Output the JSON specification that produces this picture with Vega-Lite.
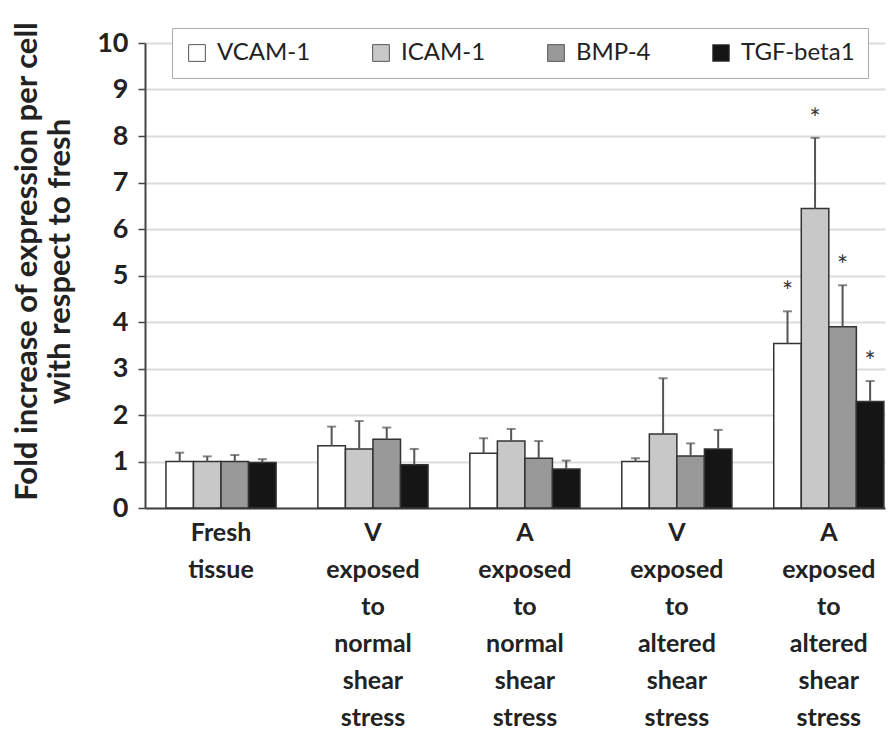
{
  "$schema": "https://vega.github.io/schema/vega-lite/v6.json",
  "autosize": "none",
  "width": 740,
  "height": 465,
  "padding": {"left": 145, "top": 43, "right": 10, "bottom": 225},
  "background": "white",
  "config": {
    "font": "Lato",
    "view": {"stroke": null},
    "axis": {"labelFont": "Lato", "titleFont": "Lato"}
  },
  "data": {
    "values": [
      {"group": "Fresh tissue", "series": "VCAM-1", "value": 1.0, "err": 1.19, "sig": ""},
      {"group": "Fresh tissue", "series": "ICAM-1", "value": 1.0, "err": 1.11, "sig": ""},
      {"group": "Fresh tissue", "series": "BMP-4", "value": 1.0, "err": 1.14, "sig": ""},
      {"group": "Fresh tissue", "series": "TGF-beta1", "value": 0.98, "err": 1.05, "sig": ""},
      {"group": "V exposed to normal shear stress", "series": "VCAM-1", "value": 1.34, "err": 1.75, "sig": ""},
      {"group": "V exposed to normal shear stress", "series": "ICAM-1", "value": 1.27, "err": 1.87, "sig": ""},
      {"group": "V exposed to normal shear stress", "series": "BMP-4", "value": 1.48, "err": 1.73, "sig": ""},
      {"group": "V exposed to normal shear stress", "series": "TGF-beta1", "value": 0.93, "err": 1.27, "sig": ""},
      {"group": "A exposed to normal shear stress", "series": "VCAM-1", "value": 1.18, "err": 1.5, "sig": ""},
      {"group": "A exposed to normal shear stress", "series": "ICAM-1", "value": 1.44, "err": 1.7, "sig": ""},
      {"group": "A exposed to normal shear stress", "series": "BMP-4", "value": 1.07, "err": 1.44, "sig": ""},
      {"group": "A exposed to normal shear stress", "series": "TGF-beta1", "value": 0.84, "err": 1.02, "sig": ""},
      {"group": "V exposed to altered shear stress", "series": "VCAM-1", "value": 1.0, "err": 1.07, "sig": ""},
      {"group": "V exposed to altered shear stress", "series": "ICAM-1", "value": 1.59, "err": 2.79, "sig": ""},
      {"group": "V exposed to altered shear stress", "series": "BMP-4", "value": 1.12, "err": 1.39, "sig": ""},
      {"group": "V exposed to altered shear stress", "series": "TGF-beta1", "value": 1.27, "err": 1.68, "sig": ""},
      {"group": "A exposed to altered shear stress", "series": "VCAM-1", "value": 3.54, "err": 4.23, "sig": "*"},
      {"group": "A exposed to altered shear stress", "series": "ICAM-1", "value": 6.44, "err": 7.96, "sig": "*"},
      {"group": "A exposed to altered shear stress", "series": "BMP-4", "value": 3.9, "err": 4.79, "sig": "*"},
      {"group": "A exposed to altered shear stress", "series": "TGF-beta1", "value": 2.29, "err": 2.73, "sig": "*"}
    ]
  },
  "encoding": {
    "x": {
      "field": "group",
      "type": "nominal",
      "sort": null,
      "scale": {"paddingInner": 0.275, "paddingOuter": 0.0725, "align": 0.95},
      "axis": {
        "title": null,
        "labelAngle": 0,
        "labelExpr": "split(datum.label, ' ')",
        "labelFontSize": 25,
        "labelFontWeight": "bold",
        "labelColor": "#222222",
        "labelLineHeight": 37,
        "labelPadding": 12,
        "labelBaseline": "top",
        "ticks": false,
        "domainColor": "#444444",
        "domainWidth": 2,
        "grid": false
      }
    },
    "xOffset": {
      "field": "series",
      "type": "nominal",
      "sort": ["VCAM-1", "ICAM-1", "BMP-4", "TGF-beta1"],
      "scale": {"paddingInner": 0, "paddingOuter": 0}
    }
  },
  "layer": [
    {
      "mark": {"type": "bar", "stroke": "#333333", "strokeWidth": 1.5},
      "encoding": {
        "y": {
          "field": "value",
          "type": "quantitative",
          "scale": {"domain": [0, 10], "nice": false},
          "axis": {
            "values": [0, 1, 2, 3, 4, 5, 6, 7, 8, 9, 10],
            "title": ["Fold increase of expression per cell", "with respect to fresh"],
            "titleFontSize": 31,
            "titleFontWeight": "bold",
            "titleColor": "#222222",
            "titleLineHeight": 33,
            "titleAngle": -90,
            "titleX": -133,
            "titleY": 218,
            "titleAlign": "center",
            "titleBaseline": "top",
            "labelFontSize": 27,
            "labelFontWeight": "bold",
            "labelColor": "#222222",
            "labelPadding": 10,
            "tickSize": 7,
            "tickColor": "#444444",
            "tickWidth": 1.5,
            "domainColor": "#444444",
            "domainWidth": 2,
            "gridColor": "#dcdcdc",
            "gridWidth": 2
          }
        },
        "fill": {
          "field": "series",
          "type": "nominal",
          "sort": ["VCAM-1", "ICAM-1", "BMP-4", "TGF-beta1"],
          "scale": {"domain": ["VCAM-1", "ICAM-1", "BMP-4", "TGF-beta1"], "range": ["#ffffff", "#c8c8c8", "#999999", "#151515"]},
          "legend": {
            "title": null,
            "orient": "none",
            "legendX": 27,
            "legendY": -15,
            "direction": "horizontal",
            "columns": 4,
            "gridAlign": "each",
            "columnPadding": 58,
            "padding": 13,
            "strokeColor": "#aaaaaa",
            "fillColor": "#ffffff",
            "symbolType": "square",
            "symbolSize": 280,
            "symbolStrokeColor": "#555555",
            "symbolStrokeWidth": 1,
            "labelFontSize": 24,
            "labelFont": "Lato",
            "labelColor": "#222222",
            "labelOffset": 8,
            "labelLimit": 300
          }
        }
      }
    },
    {
      "mark": {"type": "rule", "color": "#555555", "strokeWidth": 2},
      "encoding": {
        "y": {"field": "value", "type": "quantitative"},
        "y2": {"field": "err"}
      }
    },
    {
      "mark": {"type": "tick", "color": "#555555", "thickness": 2, "size": 9, "orient": "horizontal"},
      "encoding": {
        "y": {"field": "err", "type": "quantitative"}
      }
    },
    {
      "transform": [{"filter": "datum.sig != ''"}],
      "mark": {"type": "text", "dy": -18, "baseline": "middle", "fontSize": 26, "color": "#333333", "font": "Lato"},
      "encoding": {
        "y": {"field": "err", "type": "quantitative"},
        "text": {"field": "sig"}
      }
    }
  ]
}
